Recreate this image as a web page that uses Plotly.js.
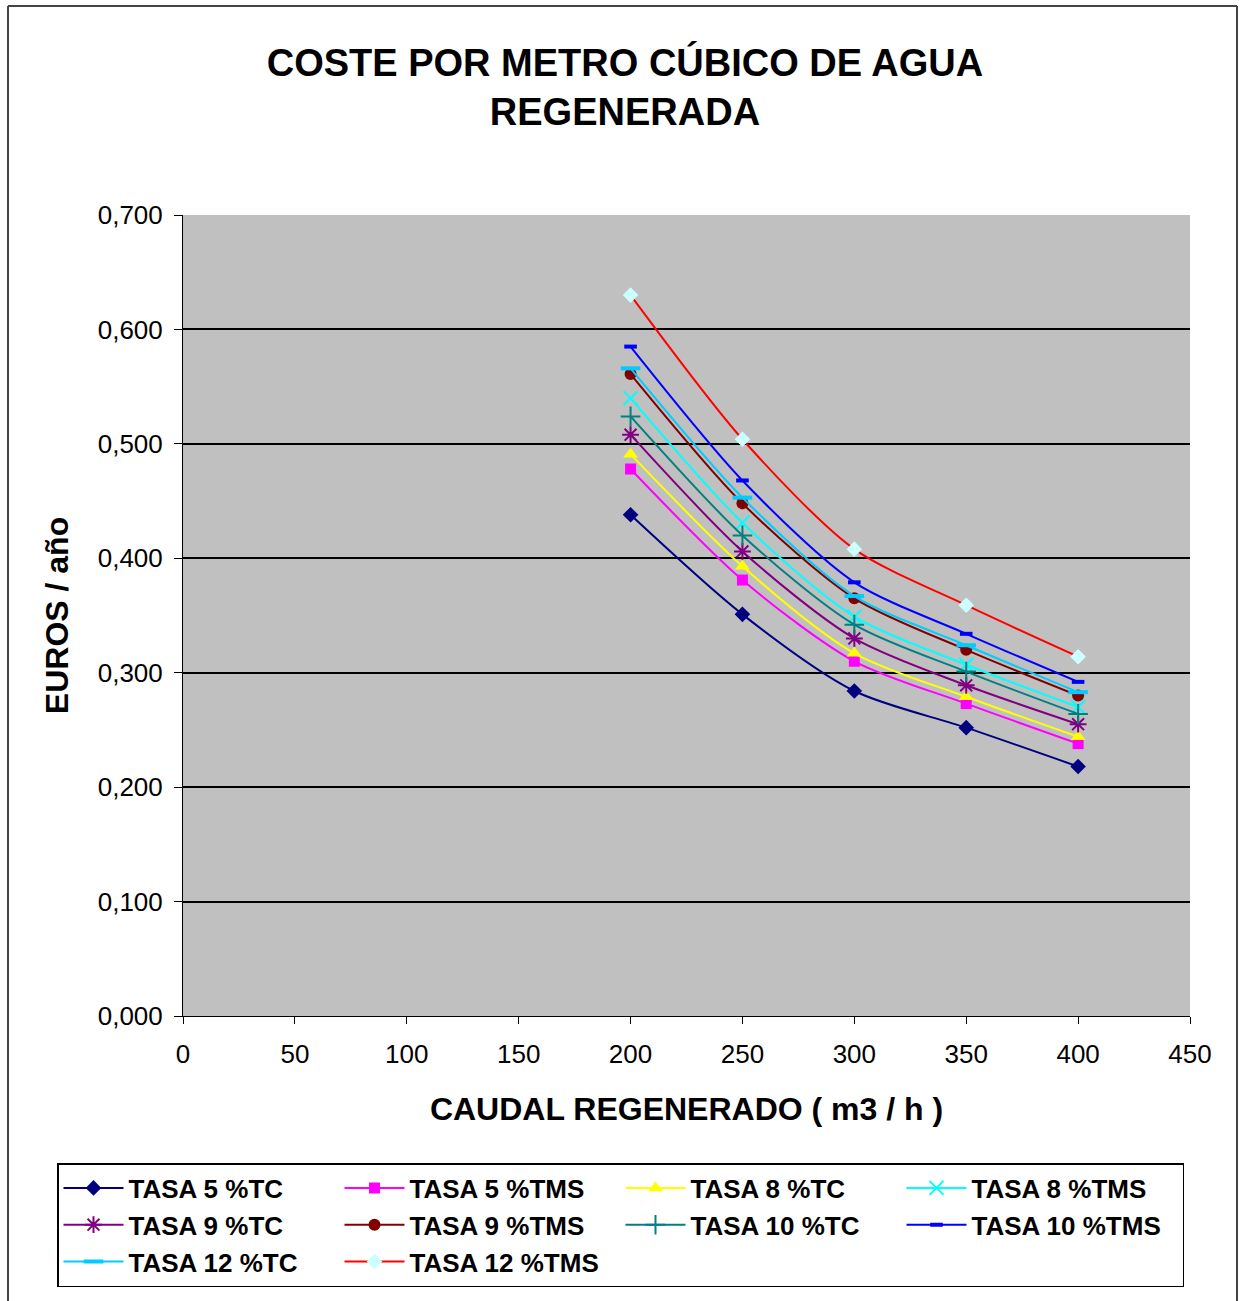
<!DOCTYPE html>
<html>
<head>
<meta charset="utf-8">
<script src="https://cdn.plot.ly/plotly-3.0.1.min.js"></script>
<style>
  html, body { margin: 0; padding: 0; background: #ffffff; }
  #chart { width: 1240px; height: 1301px; }
</style>
</head>
<body>
<div id="chart"></div>
<script>
// Caudal regenerado (m3/h)
const caudal = [200, 250, 300, 350, 400];

// Coste (euros) per series
const tasa5TC   = [0.438, 0.351, 0.284, 0.252, 0.218];
const tasa5TMS  = [0.478, 0.381, 0.310, 0.273, 0.238];
const tasa8TC   = [0.491, 0.393, 0.317, 0.279, 0.244];
const tasa8TMS  = [0.540, 0.431, 0.349, 0.307, 0.270];
const tasa9TC   = [0.508, 0.406, 0.330, 0.289, 0.255];
const tasa9TMS  = [0.561, 0.448, 0.365, 0.320, 0.280];
const tasa10TC  = [0.524, 0.420, 0.342, 0.301, 0.264];
const tasa10TMS = [0.585, 0.468, 0.379, 0.334, 0.292];
const tasa12TC  = [0.566, 0.453, 0.367, 0.324, 0.283];
const tasa12TMS = [0.630, 0.504, 0.408, 0.359, 0.314];

const seriesNames = [
  'TASA 5 %TC', 'TASA 5 %TMS', 'TASA 8 %TC', 'TASA 8 %TMS',
  'TASA 9 %TC', 'TASA 9 %TMS', 'TASA 10 %TC', 'TASA 10 %TMS',
  'TASA 12 %TC', 'TASA 12 %TMS'
];
const seriesValues = [
  tasa5TC, tasa5TMS, tasa8TC, tasa8TMS,
  tasa9TC, tasa9TMS, tasa10TC, tasa10TMS,
  tasa12TC, tasa12TMS
];

const styles = [
  {line: '#000080', marker: {symbol: 'diamond', size: 12, color: '#000080'}},
  {line: '#FF00FF', marker: {symbol: 'square', size: 11, color: '#FF00FF'}},
  {line: '#FFFF00', marker: {symbol: 'triangle-up', size: 13, color: '#FFFF00'}},
  {line: '#00FFFF', marker: {symbol: 'x-thin-open', size: 14, color: '#00FFFF', line: {color: '#00FFFF', width: 2}}},
  {line: '#800080', marker: {symbol: 'asterisk-open', size: 14, color: '#800080', line: {color: '#800080', width: 2}}},
  {line: '#800000', marker: {symbol: 'circle', size: 12, color: '#800000'}},
  {line: '#008080', marker: {symbol: 'cross-thin-open', size: 14, color: '#008080', line: {color: '#008080', width: 2}}},
  {line: '#0000FF', marker: {symbol: 'line-ew-open', size: 9, color: '#0000FF', line: {color: '#0000FF', width: 4}}},
  {line: '#00CCFF', marker: {symbol: 'line-ew-open', size: 14, color: '#00CCFF', line: {color: '#00CCFF', width: 4}}},
  {line: '#FF0000', marker: {symbol: 'diamond', size: 12, color: '#CCFFFF'}}
];

const traces = seriesNames.map((name, i) => ({
  type: 'scatter',
  mode: 'lines+markers',
  name: name,
  x: caudal,
  y: seriesValues[i],
  line: {color: styles[i].line, width: 2, shape: 'spline', smoothing: 0.8},
  marker: styles[i].marker
}));

// plot area in pixels: x 183..1190, y 215..1016
const pl = 183, pr = 1190, pt = 215, pb = 1016;
const px = v => (v - pl) / (pr - pl);
const py = v => (pb - v) / (pb - pt);

const layout = {
  width: 1240,
  height: 1301,
  paper_bgcolor: '#ffffff',
  plot_bgcolor: '#C0C0C0',
  separators: ',.',
  margin: {l: pl, r: 1240 - pr, t: pt, b: 1301 - pb, pad: 0, autoexpand: false},
  font: {family: 'Liberation Sans, Arial, sans-serif', color: '#000000'},
  title: {
    text: '<b>COSTE POR METRO CÚBICO DE AGUA<br>REGENERADA</b>',
    font: {size: 38, family: 'Liberation Sans, Arial, sans-serif', color: '#000000'},
    x: 0.504, xanchor: 'center', xref: 'container',
    y: 1 - 76 / 1301, yanchor: 'middle', yref: 'container'
  },
  xaxis: {
    range: [0, 450],
    dtick: 50,
    tick0: 0,
    ticks: 'outside',
    ticklen: 7,
    tickwidth: 1,
    tickcolor: '#000000',
    showline: true,
    linecolor: '#000000',
    linewidth: 1,
    showgrid: false,
    zeroline: false,
    ticklabelstandoff: 8,
    tickfont: {size: 26, color: '#000000'},
    title: {
      text: '<b>CAUDAL REGENERADO ( m3 / h )</b>',
      font: {size: 32, color: '#000000'},
      standoff: 29
    }
  },
  yaxis: {
    range: [0, 0.7],
    dtick: 0.1,
    tick0: 0,
    tickformat: '.3f',
    ticks: 'outside',
    ticklen: 8,
    tickwidth: 1,
    tickcolor: '#000000',
    showline: true,
    linecolor: '#000000',
    linewidth: 1,
    showgrid: true,
    gridcolor: '#000000',
    gridwidth: 2,
    zeroline: false,
    ticklabelstandoff: 6,
    tickfont: {size: 26, color: '#000000'},
    title: {
      text: '<b>EUROS / año</b>',
      font: {size: 32, color: '#000000'},
      standoff: 19
    }
  },
  legend: {
    orientation: 'h',
    x: px(57),
    xanchor: 'left',
    y: py(1163),
    yanchor: 'top',
    entrywidth: 206,
    entrywidthmode: 'pixels',
    bordercolor: '#000000',
    borderwidth: 1.5,
    bgcolor: '#ffffff',
    font: {size: 26, color: '#000000', weight: 'bold'},
    itemwidth: 60,
    traceorder: 'normal'
  },
  shapes: [
    {type: 'line', xref: 'paper', yref: 'paper', x0: px(8), x1: px(1237), y0: py(6), y1: py(6), line: {color: '#444444', width: 2}},
    {type: 'line', xref: 'paper', yref: 'paper', x0: px(8), x1: px(8), y0: py(6), y1: py(1301), line: {color: '#444444', width: 2}},
    {type: 'line', xref: 'paper', yref: 'paper', x0: px(1237), x1: px(1237), y0: py(6), y1: py(1301), line: {color: '#444444', width: 2}}
  ],
  showlegend: true
};

Plotly.newPlot('chart', traces, layout, {displayModeBar: false, staticPlot: true});
</script>
</body>
</html>
